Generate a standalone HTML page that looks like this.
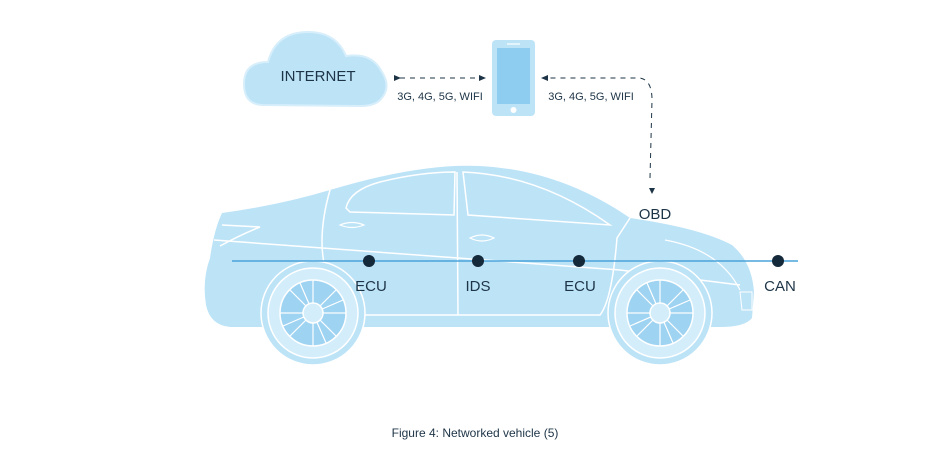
<!DOCTYPE html>
<html><head><meta charset="utf-8"><style>
html,body{margin:0;padding:0;background:#fff;width:950px;height:463px;overflow:hidden}
text{font-family:"Liberation Sans",sans-serif;fill:#1d3446}
</style></head><body>
<svg width="950" height="463" viewBox="0 0 950 463" xmlns="http://www.w3.org/2000/svg">
<defs>
<marker id="ar" markerWidth="8" markerHeight="8" refX="6" refY="4" orient="auto"><path d="M0,1 L7,4 L0,7Z" fill="#1d3446"/></marker>
</defs>
<!-- cloud -->
<path d="M262,105 Q244,104 244,84 Q244,62 268,62 Q276,32 308,32 Q336,32 346,56 Q372,52 382,72 Q392,88 380,100 Q374,106 360,106 Z" fill="#bde3f7" stroke="#d7eefb" stroke-width="2"/>
<text x="318" y="81" font-size="15" text-anchor="middle">INTERNET</text>
<!-- phone -->
<rect x="492" y="40" width="43" height="76" rx="4" fill="#bde3f7"/>
<rect x="497" y="48" width="33" height="56" fill="#8fcdf0"/>
<line x1="507" y1="44" x2="520" y2="44" stroke="#fff" stroke-width="1.2"/>
<circle cx="513.5" cy="110" r="3" fill="#fff"/>
<!-- connectors -->
<line x1="400" y1="78" x2="485" y2="78" stroke="#1d3446" stroke-dasharray="5,5" marker-start="url(#ar)" marker-end="url(#ar)"/>
<text x="440" y="100" font-size="11" text-anchor="middle">3G, 4G, 5G, WIFI</text>
<path d="M650,178 L652,100 Q652,80 640,78 L542,78" fill="none" stroke="#1d3446" stroke-dasharray="5,5" marker-end="url(#ar)"/>
<path d="M649,188 L655,188 L652,194Z" fill="#1d3446"/>
<text x="591" y="100" font-size="11" text-anchor="middle">3G, 4G, 5G, WIFI</text>
<!-- car body -->
<path d="M222,213 Q280,205 330,190 Q420,163 480,166 Q560,170 630,218 Q700,228 732,245 Q752,262 754,292 L752,318 Q745,327 720,327 L230,327 Q210,325 206,305 Q202,280 210,258 Q214,230 222,213Z" fill="#bde3f7"/>
<!-- windows -->
<path d="M346,208 Q350,190 380,182 Q420,172 455,172 L454,215 L350,212Z" fill="none" stroke="#fff" stroke-width="1.5"/>
<path d="M463,172 Q540,175 610,225 L468,215Z" fill="none" stroke="#fff" stroke-width="1.5"/>
<!-- lines -->
<path d="M214,240 Q350,250 620,270 Q700,280 740,285" fill="none" stroke="#fff" stroke-width="1.5"/>
<path d="M222,225 L260,227 Q240,235 220,246" fill="none" stroke="#fff" stroke-width="1.5"/>
<path d="M330,190 Q310,260 340,300 L350,315 L600,315 Q612,300 617,238 L630,218" fill="none" stroke="#fff" stroke-width="1.5"/>
<line x1="457" y1="172" x2="458" y2="315" stroke="#fff" stroke-width="1.5"/>
<path d="M340,225 Q352,220 364,225 Q352,230 340,225Z M470,238 Q482,232 494,238 Q482,244 470,238Z" fill="none" stroke="#fff" stroke-width="1.2"/>
<path d="M665,240 Q720,250 740,290" fill="none" stroke="#fff" stroke-width="1.2"/>
<path d="M740,292 L752,292 L752,310 L742,310Z" fill="none" stroke="#fff" stroke-width="1"/>
<!-- wheels -->
<g id="w">
<circle cx="313" cy="313" r="52" fill="#bde3f7" stroke="#fff" stroke-width="1.5"/>
<circle cx="313" cy="313" r="45" fill="#d3edfb" stroke="#fff" stroke-width="1.5"/>
<circle cx="313" cy="313" r="33" fill="#9ed3f2" stroke="#fff" stroke-width="1.5"/>
<g stroke="#fff" stroke-width="1.2">
<line x1="313" y1="280" x2="313" y2="346"/><line x1="280" y1="313" x2="346" y2="313"/>
<line x1="290" y1="290" x2="336" y2="336"/><line x1="336" y1="290" x2="290" y2="336"/>
<line x1="300" y1="283" x2="326" y2="343"/><line x1="283" y1="326" x2="343" y2="300"/>
</g>
<circle cx="313" cy="313" r="10" fill="#d3edfb" stroke="#fff" stroke-width="1.5"/>
</g>
<use href="#w" x="347" y="0"/>
<!-- CAN line -->
<line x1="232" y1="261" x2="798" y2="261" stroke="#4aa3dc" stroke-width="1.5"/>
<g fill="#14293a">
<circle cx="369" cy="261" r="6"/><circle cx="478" cy="261" r="6"/><circle cx="579" cy="261" r="6"/><circle cx="778" cy="261" r="6"/>
</g>
<g font-size="15" text-anchor="middle">
<text x="371" y="291">ECU</text><text x="478" y="291">IDS</text><text x="580" y="291">ECU</text><text x="780" y="291">CAN</text>
<text x="655" y="219">OBD</text>
</g>
<text x="475" y="437" font-size="12" text-anchor="middle">Figure 4: Networked vehicle (5)</text>
</svg>
</body></html>
